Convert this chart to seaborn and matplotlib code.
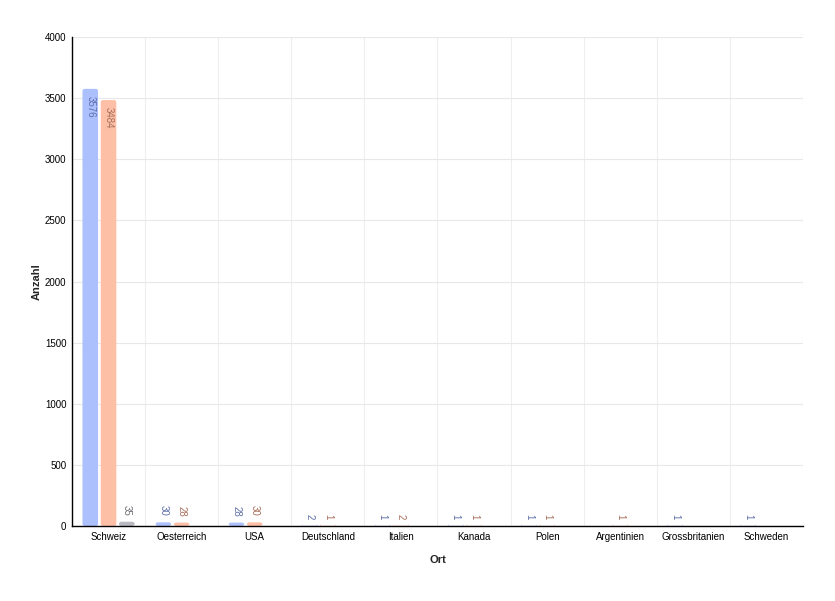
import numpy as np
import pandas as pd
import matplotlib
matplotlib.use("Agg")
import matplotlib.pyplot as plt
from matplotlib.patches import FancyBboxPatch
import seaborn as sns

# data
orte = ['Schweiz', 'Oesterreich', 'USA', 'Deutschland', 'Italien',
        'Kanada', 'Polen', 'Argentinien', 'Grossbritanien', 'Schweden']
serie_a = [3576, 30, 28, 2, 1, 1, 1, np.nan, 1, 1]
serie_b = [3484, 28, 30, 1, 2, 1, 1, 1, np.nan, np.nan]
serie_c = [35, np.nan, np.nan, np.nan, np.nan, np.nan, np.nan, np.nan, np.nan, np.nan]
serien = ['A', 'B', 'C']

bar_colors = ['#abc0fd', '#fdbfa6', '#b9b9c1']
label_colors = ['#5d6ea8', '#a86e5a', '#6e6e74']

df = pd.DataFrame({
    'Ort': orte * 3,
    'Serie': [serien[0]] * len(orte) + [serien[1]] * len(orte) + [serien[2]] * len(orte),
    'Anzahl': serie_a + serie_b + serie_c,
})

sns.set_style('white')
plt.rcParams['font.family'] = ['Liberation Sans', 'DejaVu Sans']

fig = plt.figure(figsize=(8.35, 6.01), dpi=100)
ax = fig.add_axes([0.0862, 0.1248, 0.8755, 0.8136])

sns.barplot(data=df, x='Ort', y='Anzahl', hue='Serie', hue_order=serien,
            palette=bar_colors, width=0.75, gap=0.15, legend=False, ax=ax,
            saturation=1, err_kws={'linewidth': 0})

ymax = 4000
ax.set_ylim(0, ymax)
ax.set_xlim(-0.5, len(orte) - 0.5)

# px per data unit, used to keep the rounded corners circular
bbox = ax.get_position()
px_x = bbox.width * fig.get_figwidth() * fig.dpi / len(orte)
px_y = bbox.height * fig.get_figheight() * fig.dpi / ymax
aspect = px_x / px_y

for cont, lc in zip(ax.containers, label_colors):
    for patch in cont.patches:
        h = patch.get_height()
        if np.isnan(h) or h == 0:
            continue
        x0, w = patch.get_x(), patch.get_width()
        patch.set_visible(False)
        rounded = FancyBboxPatch((x0, 0), w, h,
                                 boxstyle='round,pad=0,rounding_size=0.03',
                                 mutation_aspect=aspect,
                                 facecolor=patch.get_facecolor(),
                                 edgecolor='none', zorder=2)
        ax.add_patch(rounded)
        xc = x0 + w / 2
        txt = str(int(round(h)))
        if h > 400:
            ax.text(xc, h - 60, txt, rotation=-90, ha='center', va='top',
                    fontsize=7, color=lc, zorder=3)
        else:
            ax.text(xc, h + 50, txt, rotation=-90, ha='center', va='bottom',
                    fontsize=7, color=lc, zorder=3)

ax.set_yticks(np.arange(0, ymax + 1, 500))
ax.set_xticks(np.arange(-0.5, len(orte), 1), minor=True)
ax.grid(True, which='major', axis='y', color='#e8e8e8', linewidth=0.8)
ax.grid(True, which='minor', axis='x', color='#eeeeee', linewidth=0.8)
ax.grid(False, which='major', axis='x')
ax.set_axisbelow(True)

ax.tick_params(axis='both', which='both', length=0, labelsize=7, colors='black', pad=4)
ax.set_xlabel('Ort', fontsize=8, fontweight='bold', labelpad=10)
ax.set_ylabel('Anzahl', fontsize=8, fontweight='bold', labelpad=2)

for s in ['top', 'right']:
    ax.spines[s].set_visible(False)
for s in ['left', 'bottom']:
    ax.spines[s].set_color('black')
    ax.spines[s].set_linewidth(1.0)
    ax.spines[s].set_zorder(4)

fig.savefig('out.png', dpi=100)
